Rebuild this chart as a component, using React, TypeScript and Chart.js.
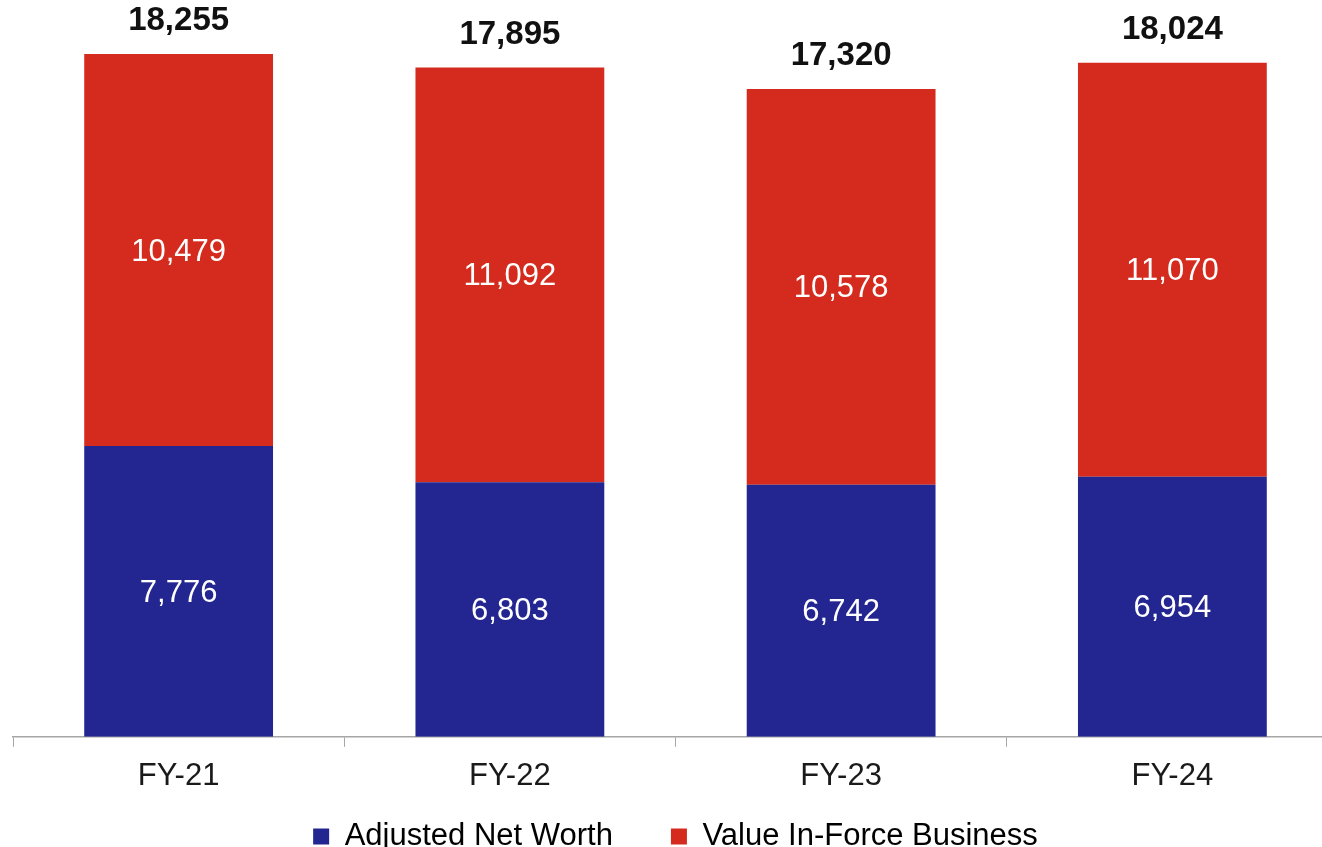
import React, { useEffect, useRef } from "react";
import { Chart, registerables } from "chart.js";

Chart.register(...registerables);

const categories = ["FY-21", "FY-22", "FY-23", "FY-24"];
const adjustedNetWorth = [7776, 6803, 6742, 6954];
const valueInForce = [10479, 11092, 10578, 11070];
const totals = [18255, 17895, 17320, 18024];
const seriesNames = ["Adjusted Net Worth", "Value In-Force Business"];

const BLUE = "#232691";
const RED = "#D52B1E";
const FONT = "'Liberation Sans', Arial, sans-serif";

const fmt = (v: number) => v.toLocaleString("en-US");

const labelPlugin = {
  id: "valueLabels",
  afterDatasetsDraw(chart: any) {
    const ctx = chart.ctx;
    ctx.save();
    ctx.textAlign = "center";
    ctx.textBaseline = "middle";
    chart.data.datasets.forEach((ds: any, di: number) => {
      const meta = chart.getDatasetMeta(di);
      meta.data.forEach((bar: any, i: number) => {
        const cy = (bar.y + bar.base) / 2 + 2;
        ctx.fillStyle = "#ffffff";
        ctx.font = `31px ${FONT}`;
        ctx.fillText(fmt(ds.data[i]), bar.x, cy);
      });
    });
    const last = chart.getDatasetMeta(chart.data.datasets.length - 1);
    last.data.forEach((bar: any, i: number) => {
      ctx.fillStyle = "#111111";
      ctx.font = `bold 33px ${FONT}`;
      ctx.fillText(fmt(totals[i]), bar.x, bar.y - 33);
    });
    ctx.restore();
  },
};

export default function App() {
  const ref = useRef<HTMLCanvasElement>(null);
  useEffect(() => {
    if (!ref.current) return;
    const chart = new Chart(ref.current, {
      type: "bar",
      data: {
        labels: categories,
        datasets: [
          { label: seriesNames[0], data: adjustedNetWorth, backgroundColor: BLUE, borderWidth: 0 },
          { label: seriesNames[1], data: valueInForce, backgroundColor: RED, borderWidth: 0 },
        ],
      },
      options: {
        responsive: false,
        animation: false,
        maintainAspectRatio: false,
        layout: { padding: { left: 13, right: 7, top: 0, bottom: 0 } },
        datasets: { bar: { categoryPercentage: 1, barPercentage: 0.57 } },
        scales: {
          x: {
            stacked: true,
            offset: true,
            grid: {
              display: true,
              drawOnChartArea: false,
              drawTicks: true,
              tickLength: 10,
              color: "#a6a6a6",
              offset: true,
            },
            border: { display: true, color: "#a6a6a6", width: 1.5 },
            ticks: { color: "#1a1a1a", font: { family: FONT, size: 31 }, padding: 11 },
          },
          y: { stacked: true, display: false, min: 0, max: 19700 },
        },
        plugins: {
          tooltip: { enabled: false },
          legend: {
            position: "bottom",
            labels: {
              color: "#1a1a1a",
              font: { family: FONT, size: 31 },
              boxWidth: 16,
              boxHeight: 16,
              padding: 15,
              generateLabels: (c: any) =>
                c.data.datasets.map((ds: any, i: number) => ({
                  text: i === 0 ? ds.label + "     " : ds.label,
                  fillStyle: ds.backgroundColor,
                  strokeStyle: ds.backgroundColor,
                  lineWidth: 0,
                  hidden: false,
                  datasetIndex: i,
                })),
            },
          },
        },
      },
      plugins: [labelPlugin],
    });
    return () => chart.destroy();
  }, []);
  return (
    <div style={{ position: "fixed", left: 0, top: 0, width: 1322, height: 847, overflow: "hidden", background: "#fff" }}>
      <canvas ref={ref} width={1345} height={862} style={{ display: "block", width: 1345, height: 862 }} />
    </div>
  );
}
